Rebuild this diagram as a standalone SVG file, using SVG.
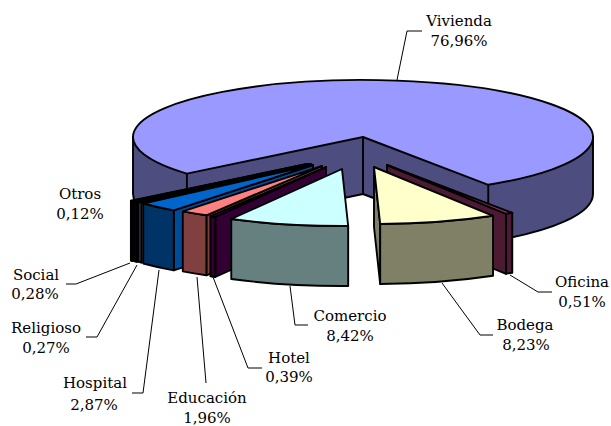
<svg xmlns="http://www.w3.org/2000/svg" width="611" height="426" viewBox="0 0 611 426">
<style>
.s{stroke:#000;stroke-width:1.9;stroke-linejoin:round}
.e{stroke:#000;stroke-width:1.9;fill:none}
.ld{stroke:#000;stroke-width:1;fill:none}
text{font-family:"DejaVu Serif","Liberation Serif",serif;font-size:15px;fill:#000;text-anchor:middle}
</style>
<rect width="611" height="426" fill="#fff"/>
<g id="vivienda">
<path class="s" fill="#4D4D80" d="M133,137 L133,194 A230 57 0 0 0 186.9,230.66 L363,194 L488.27,241.8 A230 57 0 0 0 593,194 L593,137 Z"/>
<path class="e" d="M186.9,173.66 V230.66 M363,137 V194 M488.27,184.8 V241.8"/>
<path class="s" fill="#9999FF" d="M363,137 L186.9,173.66 A230 57 0 1 1 488.27,184.8 Z"/>
<text x="459" y="26">Vivienda</text><text x="459" y="46">76,96%</text>
</g>
<g id="oficina">
<path class="s" fill="#4D1A33" d="M387,165 L506.03,213.77 L506.03,273.77 L387,225 Z"/>
<path class="s" fill="#4D1A33" d="M512.27,212.8 A230 57 0 0 1 506.03,213.77 L506.03,273.77 A230 57 0 0 0 512.27,272.8 Z"/>
<path class="s" fill="#993366" d="M387,165 L512.27,212.8 A230 57 0 0 1 506.03,213.77 Z"/>
<text x="582" y="287">Oficina</text><text x="582" y="307">0,51%</text>
</g>
<g id="bodega">
<path class="s" fill="#808066" d="M374,167 L380.18,223.98 L380.18,283.98 L374,227 Z"/>
<path class="s" fill="#808066" d="M493.03,215.77 A230 57 0 0 1 380.18,223.98 L380.18,283.98 A230 57 0 0 0 493.03,275.77 Z"/>
<path class="s" fill="#FFFFCC" d="M374,167 L493.03,215.77 A230 57 0 0 1 380.18,223.98 Z"/>
<text x="525" y="330">Bodega</text><text x="526" y="350">8,23%</text>
</g>
<g id="otros">
<path class="s" fill="#800080" d="M307,164 L132.01,200.99 L132.01,260.99 L307,224 Z"/>
<path class="s" fill="#800080" d="M132.01,200.99 A230 57 0 0 1 130.9,200.66 L130.9,260.66 A230 57 0 0 0 132.01,260.99 Z"/>
<path class="s" fill="#FF00FF" d="M307,164 L132.01,200.99 A230 57 0 0 1 130.9,200.66 Z"/>
<text x="80" y="199">Otros</text><text x="80" y="219">0,12%</text>
</g>
<g id="social">
<path class="s" fill="#000040" d="M309,164 L136.65,201.75 L136.65,261.75 L309,224 Z"/>
<path class="s" fill="#000040" d="M136.65,201.75 A230 57 0 0 1 134.01,200.99 L134.01,260.99 A230 57 0 0 0 136.65,261.75 Z"/>
<path class="s" fill="#000080" d="M309,164 L136.65,201.75 A230 57 0 0 1 134.01,200.99 Z"/>
<text x="36" y="280">Social</text><text x="35" y="299">0,28%</text>
</g>
<g id="religioso">
<path class="s" fill="#666680" d="M311,164 L141.25,202.46 L141.25,262.46 L311,224 Z"/>
<path class="s" fill="#666680" d="M141.25,202.46 A230 57 0 0 1 138.65,201.75 L138.65,261.75 A230 57 0 0 0 141.25,262.46 Z"/>
<path class="s" fill="#CCCCFF" d="M311,164 L141.25,202.46 A230 57 0 0 1 138.65,201.75 Z"/>
<text x="46" y="333">Religioso</text><text x="46" y="353">0,27%</text>
</g>
<g id="hospital">
<path class="s" fill="#004C99" d="M313,165 L173.78,210.37 L173.78,270.37 L313,225 Z"/>
<path class="s" fill="#003366" d="M173.78,210.37 A230 57 0 0 1 143.25,203.46 L143.25,263.46 A230 57 0 0 0 173.78,270.37 Z"/>
<path class="s" fill="#0066CC" d="M313,165 L173.78,210.37 A230 57 0 0 1 143.25,203.46 Z"/>
<text x="95" y="388">Hospital</text><text x="94" y="410">2,87%</text>
</g>
<g id="educacion">
<path class="s" fill="#804040" d="M322,166 L206.4,215.28 L206.4,275.28 L322,226 Z"/>
<path class="s" fill="#804040" d="M206.4,215.28 A230 57 0 0 1 182.78,211.37 L182.78,271.37 A230 57 0 0 0 206.4,275.28 Z"/>
<path class="s" fill="#FF8080" d="M322,166 L206.4,215.28 A230 57 0 0 1 182.78,211.37 Z"/>
<text x="207" y="403">Educación</text><text x="207" y="423">1,96%</text>
</g>
<g id="hotel">
<path class="s" fill="#330033" d="M326,167 L215.27,216.96 L215.27,276.96 L326,227 Z"/>
<path class="s" fill="#330033" d="M215.27,216.96 A230 57 0 0 1 210.4,216.28 L210.4,276.28 A230 57 0 0 0 215.27,276.96 Z"/>
<path class="s" fill="#660066" d="M326,167 L215.27,216.96 A230 57 0 0 1 210.4,216.28 Z"/>
<text x="289" y="363">Hotel</text><text x="289" y="382">0,39%</text>
</g>
<g id="comercio">
<path class="s" fill="#668080" d="M348.18,225.98 A230 57 0 0 1 231.27,218.96 L231.27,278.96 A230 57 0 0 0 348.18,285.98 Z"/>
<path class="s" fill="#CCFFFF" d="M342,169 L348.18,225.98 A230 57 0 0 1 231.27,218.96 Z"/>
<text x="350" y="321">Comercio</text><text x="350" y="341">8,42%</text>
</g>
<g id="connectors">
<polyline class="ld" points="397,80 407,31 422,31"/>
<polyline class="ld" points="66,284 76,284 130,263"/>
<polyline class="ld" points="86,337 97,337 137,265"/>
<polyline class="ld" points="132,393 143,393 159,270"/>
<polyline class="ld" points="206,383 197,277"/>
<polyline class="ld" points="262,368 248,368 213,277"/>
<polyline class="ld" points="308,325 295,325 290,286"/>
<polyline class="ld" points="493,335 480,335 442,283"/>
<polyline class="ld" points="552,292 538,292 510,275"/>
</g>
</svg>
